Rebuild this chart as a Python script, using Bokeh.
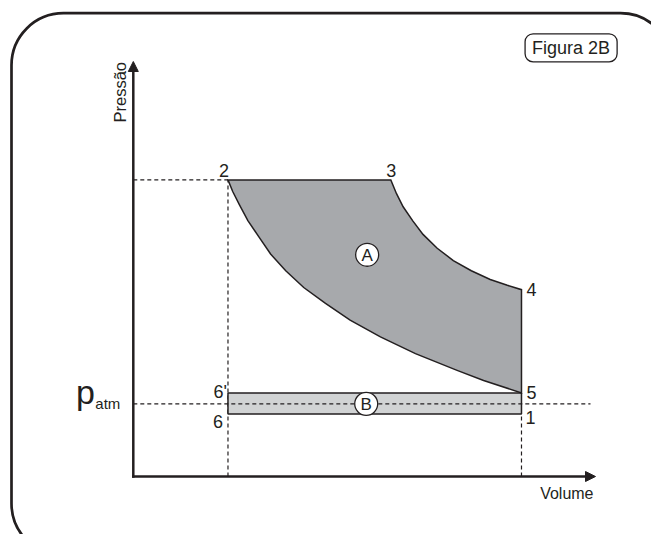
import math
from bokeh.plotting import figure
from bokeh.models import Range1d, Arrow, NormalHead, Label, ColumnDataSource
from bokeh.core.properties import value
from bokeh.embed import file_html
from bokeh.resources import INLINE

# ---------------- data (arbitrary units) ----------------
states = ["1", "2", "3", "4", "5", "6", "6'"]
volume = [4.10, 1.00, 2.72, 4.10, 4.10, 1.00, 1.00]
pressure = [0.86, 4.08, 4.08, 2.57, 1.15, 0.86, 1.15]
p_atm = 1.0

# compression curve 2 -> 5 (listed from 2 to 5)
curve_25_v = [1.00, 1.05, 1.12, 1.21, 1.33, 1.45, 1.61, 1.80, 2.03, 2.29, 2.61, 2.98, 3.42, 3.70, 4.10]
curve_25_p = [4.08, 3.92, 3.74, 3.52, 3.29, 3.06, 2.83, 2.60, 2.38, 2.15, 1.92, 1.69, 1.46, 1.32, 1.15]
# expansion curve 3 -> 4
curve_34_v = [2.72, 2.78, 2.85, 2.95, 3.06, 3.21, 3.38, 3.57, 3.77, 3.95, 4.10]
curve_34_p = [4.08, 3.89, 3.71, 3.52, 3.33, 3.14, 2.97, 2.83, 2.71, 2.63, 2.57]

area_labels = ["A", "B"]
area_v = [2.47, 2.46]
area_p = [3.05, 1.00]

# ---------------- layout ----------------
W, H = 651, 534
X0 = 132.8   # canvas px of V = 0
KX = 94.68   # px per unit V
Y0 = 476.0   # canvas px of P = 0
KY = 72.7    # px per unit P


def vx(px):
    return (px - X0) / KX


def py(pyy):
    return (Y0 - pyy) / KY


INK = "#231f20"
FONT = "Liberation Sans"

p = figure(width=W, height=H, x_range=Range1d(vx(0), vx(W)), y_range=Range1d(py(H), py(0)),
           output_backend="svg", toolbar_location=None, min_border=0,
           x_axis_location=None, y_axis_location=None, outline_line_color=None,
           background_fill_color="white", border_fill_color="white")
p.xgrid.visible = False
p.ygrid.visible = False

S = dict(zip(states, zip(volume, pressure)))

# outer rounded frame
p.quad(left=[vx(11)], right=[vx(672)], top=[py(12.7)], bottom=[py(555)], border_radius=52,
       fill_color=None, line_color=INK, line_width=2.7)

# dashed guide lines (behind)
p.segment(x0=[0, S["2"][0], S["1"][0]], y0=[S["2"][1], 0, 0],
          x1=[S["2"][0], S["2"][0], S["1"][0]], y1=[S["2"][1], S["2"][1], S["1"][1]],
          line_color=INK, line_width=1.2, line_dash="4 3")

# region B (6-1-5-6')
p.quad(left=[S["6"][0]], right=[S["1"][0]], bottom=[S["1"][1]], top=[S["6'"][1]],
       fill_color="#d1d3d4", line_color=INK, line_width=1.5)

# region A (2-3-4-5-2)
xs = [S["2"][0]] + curve_34_v + curve_25_v[::-1]
ys = [S["2"][1]] + curve_34_p + curve_25_p[::-1]
p.patch(xs, ys, fill_color="#a7a9ac", line_color=INK, line_width=1.5, line_join="miter")

# atmospheric pressure line
p.segment(x0=[0], y0=[p_atm], x1=[vx(590)], y1=[p_atm], line_color=INK, line_width=1.2, line_dash="4 3")

# area markers
p.scatter(x=area_v, y=area_p, size=23, marker="circle", fill_color="white", line_color=INK, line_width=1.3)
p.text(x=area_v, y=area_p, text=area_labels, text_align="center", text_baseline="middle",
       text_font=value(FONT), text_font_size="17px", text_color=INK, y_offset=1)

# state labels (align, x offset px, y offset px downwards)
offs = {
    "1": ("left", 4, 3.5),
    "2": ("right", 1, -9),
    "3": ("center", 0.5, -9.5),
    "4": ("left", 5, 0),
    "5": ("left", 5, 0),
    "6": ("right", -5, 8),
    "6'": ("right", -1, -1),
}
src = ColumnDataSource(dict(
    x=volume, y=pressure, t=states,
    al=[offs[s][0] for s in states],
    xo=[offs[s][1] for s in states],
    yo=[offs[s][2] for s in states],
))
p.text(x="x", y="y", text="t", source=src, text_align="al", x_offset="xo", y_offset="yo",
       text_baseline="middle", text_font=value(FONT), text_font_size="18px", text_color=INK)

# axes as arrows
for xe, ye in [(vx(595), 0), (0, py(61))]:
    p.add_layout(Arrow(x_start=0, y_start=0, x_end=xe, y_end=ye, line_color=INK, line_width=2.5,
                       line_cap="square",
                       end=NormalHead(size=10, line_color=INK, fill_color=INK, line_width=1)))

p.add_layout(Label(x=vx(595), y=0, text="Volume", text_align="right", text_baseline="middle",
                   x_offset=-2, y_offset=-17, text_font=FONT, text_font_size="16px", text_color=INK))
p.add_layout(Label(x=0, y=py(122), text="Pressão", angle=math.pi / 2, text_align="left",
                   text_baseline="middle", x_offset=-13.5, text_font=FONT, text_font_size="16.5px",
                   text_color=INK))
p.add_layout(Label(x=0, y=p_atm, text="p", text_align="right", text_baseline="middle",
                   x_offset=-38.4, y_offset=12, text_font=FONT, text_font_size="34px", text_color=INK))
p.add_layout(Label(x=0, y=p_atm, text="atm", text_align="left", text_baseline="middle",
                   x_offset=-38, y_offset=0, text_font=FONT, text_font_size="15px", text_color=INK))

# figure tag
p.add_layout(Label(x=vx(570.6), y=py(47.3), text="Figura 2B", text_align="center", text_baseline="middle",
                   text_font=FONT, text_font_size="18px", text_color=INK,
                   padding=dict(left=7, right=7, top=4, bottom=4), border_radius=8,
                   background_fill_color="white", border_line_color=INK, border_line_width=1.3))

open("out.html", "w").write(file_html(p, INLINE))
